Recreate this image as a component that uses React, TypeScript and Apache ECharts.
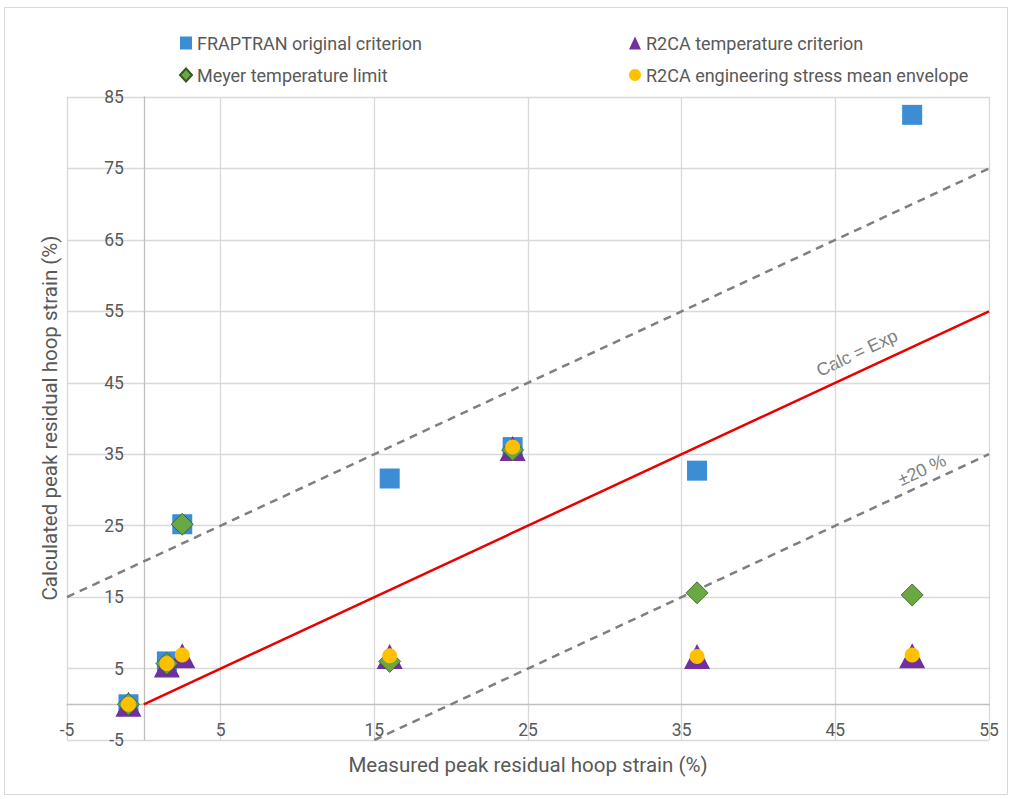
import React, { useEffect, useRef } from "react";
import * as echarts from "echarts";

// Measured vs calculated peak residual hoop strain (%), [measured, calculated]
const fraptranOriginal: [number, number][] = [
  [-1, 0], [1.5, 6.0], [2.5, 25.2], [16, 31.6], [24, 36.0], [36, 32.7], [50, 82.5],
];
const r2caTemperature: [number, number][] = [
  [-1, 0], [1.5, 5.5], [2.5, 6.8], [16, 6.7], [24, 35.8], [36, 6.7], [50, 6.8],
];
const meyerTemperature: [number, number][] = [
  [-1, 0], [1.5, 5.7], [2.5, 25.2], [16, 6.0], [24, 35.6], [36, 15.6], [50, 15.3],
];
const r2caEngineering: [number, number][] = [
  [-1, 0], [1.5, 5.7], [2.5, 6.9], [16, 6.8], [24, 36.0], [36, 6.7], [50, 6.9],
];

// Reference lines: Calc = Exp and the ±20 % band
const calcEqualsExp: [number, number][] = [[0, 0], [55, 55]];
const upperBand: [number, number][] = [[-5, 15], [55, 75]];
const lowerBand: [number, number][] = [[15, -5], [55, 35]];

const seriesNames = [
  "FRAPTRAN original criterion",
  "R2CA temperature criterion",
  "Meyer temperature limit",
  "R2CA engineering stress mean envelope",
];

const xRange = { min: -5, max: 55, interval: 10 };
const yRange = { min: -5, max: 85, interval: 10 };

const WIDTH = 1011;
const HEIGHT = 799;
const GRID = { left: 67, right: 22, top: 97, bottom: 59 };

const FONT = "Roboto, 'Open Sans', sans-serif";
const TEXT_COLOR = "#595959";

export default function App() {
  const ref = useRef<HTMLDivElement>(null);

  useEffect(() => {
    if (!ref.current) return;
    const chart = echarts.init(ref.current, undefined, { renderer: "svg" });
    const angle = (25 * Math.PI) / 180;

    // Both axes (line and labels) sit on the other axis's zero.
    const plotW = WIDTH - GRID.left - GRID.right;
    const plotH = HEIGHT - GRID.top - GRID.bottom;
    const xAxisOffset = -((0 - yRange.min) / (yRange.max - yRange.min)) * plotH;
    const yAxisOffset = -((0 - xRange.min) / (xRange.max - xRange.min)) * plotW;

    const legendText = { color: TEXT_COLOR, fontSize: 18, lineHeight: 20, fontFamily: FONT };

    chart.setOption({
      animation: false,
      backgroundColor: "#ffffff",
      textStyle: { fontFamily: FONT },
      grid: { ...GRID, containLabel: false },
      legend: [
        {
          data: [
            { name: seriesNames[0], icon: "rect" },
            { name: seriesNames[2], icon: "diamond" },
          ],
          orient: "vertical",
          left: 179,
          top: 33,
          padding: 0,
          itemWidth: 12,
          itemHeight: 13,
          itemGap: 12,
          selectedMode: false,
          textStyle: legendText,
        },
        {
          data: [
            { name: seriesNames[1], icon: "triangle" },
            { name: seriesNames[3], icon: "circle" },
          ],
          orient: "vertical",
          left: 629,
          top: 33,
          padding: 0,
          itemWidth: 12,
          itemHeight: 13,
          itemGap: 12,
          selectedMode: false,
          textStyle: legendText,
        },
      ],
      xAxis: {
        type: "value",
        ...xRange,
        offset: xAxisOffset,
        axisLine: { show: true, onZero: false, lineStyle: { color: "#bfbfbf", width: 1.3 } },
        axisTick: { show: false },
        axisLabel: { color: TEXT_COLOR, fontSize: 17.5, margin: 17, fontFamily: FONT },
        splitLine: { show: true, lineStyle: { color: "#d9d9d9", width: 1.3 } },
      },
      yAxis: {
        type: "value",
        ...yRange,
        offset: yAxisOffset,
        axisLine: { show: true, onZero: false, lineStyle: { color: "#bfbfbf", width: 1.3 } },
        axisTick: { show: false },
        axisLabel: { color: TEXT_COLOR, fontSize: 17.5, margin: 20, fontFamily: FONT },
        splitLine: { show: true, lineStyle: { color: "#d9d9d9", width: 1.3 } },
      },
      series: [
        {
          type: "line",
          name: "Calc = Exp",
          data: calcEqualsExp,
          symbol: "none",
          lineStyle: { color: "#ea0000", width: 2.5 },
          z: 1,
        },
        {
          type: "line",
          name: "upper",
          data: upperBand,
          symbol: "none",
          lineStyle: { color: "#7f7f7f", width: 2.5, type: [8, 6] },
          z: 1,
        },
        {
          type: "line",
          name: "lower",
          data: lowerBand,
          symbol: "none",
          lineStyle: { color: "#7f7f7f", width: 2.5, type: [8, 6] },
          z: 1,
        },
        {
          type: "scatter",
          name: seriesNames[0],
          data: fraptranOriginal,
          symbol: "rect",
          symbolSize: 20,
          itemStyle: { color: "#3c8dd4", opacity: 1 },
          z: 3,
        },
        {
          type: "scatter",
          name: seriesNames[1],
          data: r2caTemperature,
          symbol: "triangle",
          symbolSize: [26, 25],
          itemStyle: { color: "#7030a0", opacity: 1 },
          z: 4,
        },
        {
          type: "scatter",
          name: seriesNames[2],
          data: meyerTemperature,
          symbol: "diamond",
          symbolSize: 22,
          itemStyle: { color: "#6aa843", borderColor: "#375623", borderWidth: 0.8, opacity: 1 },
          z: 5,
        },
        {
          type: "scatter",
          name: seriesNames[3],
          data: r2caEngineering,
          symbol: "circle",
          symbolSize: 15,
          itemStyle: { color: "#ffc000", opacity: 1 },
          z: 6,
        },
      ],
      graphic: [
        {
          type: "rect",
          shape: { x: 4.5, y: 7.5, width: 1003, height: 787 },
          style: { fill: "none", stroke: "#d9d9d9", lineWidth: 1 },
          silent: true,
        },
        {
          type: "text",
          x: 528,
          y: 765,
          style: {
            text: "Measured peak residual hoop strain (%)",
            fill: TEXT_COLOR,
            fontSize: 20.5,
            fontFamily: FONT,
            textAlign: "center",
            textVerticalAlign: "middle",
          },
        },
        {
          type: "text",
          x: 50,
          y: 418,
          rotation: Math.PI / 2,
          style: {
            text: "Calculated peak residual hoop strain (%)",
            fill: TEXT_COLOR,
            fontSize: 20.5,
            fontFamily: FONT,
            textAlign: "center",
            textVerticalAlign: "middle",
          },
        },
        {
          type: "text",
          x: 857,
          y: 353,
          rotation: angle,
          style: {
            text: "Calc = Exp",
            fill: "#808080",
            fontSize: 18,
            fontFamily: "'Liberation Sans', Arial, sans-serif",
            textAlign: "center",
            textVerticalAlign: "middle",
          },
        },
        {
          type: "text",
          x: 922,
          y: 470,
          rotation: angle,
          style: {
            text: "±20 %",
            fill: "#808080",
            fontSize: 18,
            fontFamily: "'Liberation Sans', Arial, sans-serif",
            textAlign: "center",
            textVerticalAlign: "middle",
          },
        },
      ],
    });

    return () => chart.dispose();
  }, []);

  return (
    <div
      ref={ref}
      style={{ position: "absolute", left: 0, top: 0, width: WIDTH, height: HEIGHT }}
    />
  );
}
